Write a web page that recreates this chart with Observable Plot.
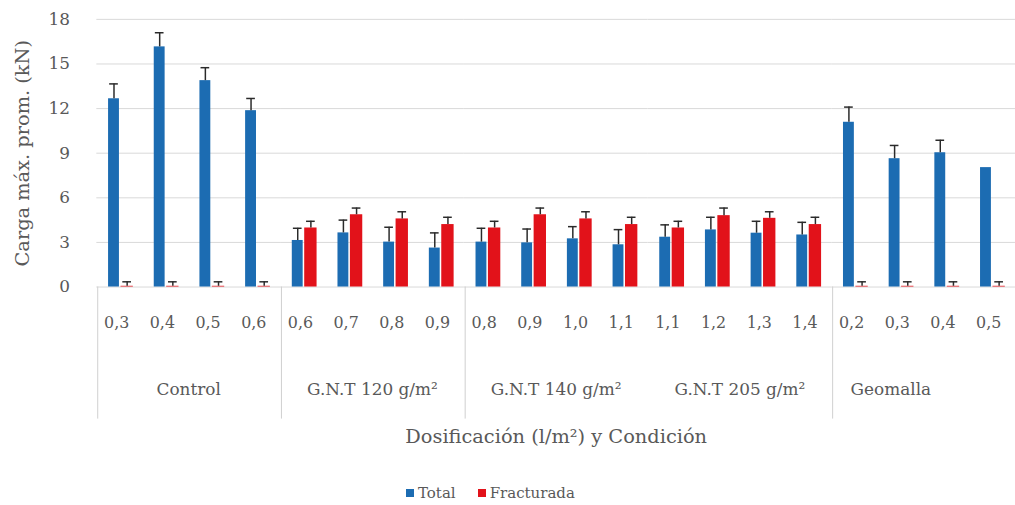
<!DOCTYPE html>
<html>
<head>
<meta charset="utf-8">
<script src="https://cdn.jsdelivr.net/npm/d3@7"></script>
<script src="https://cdn.jsdelivr.net/npm/@observablehq/plot@0.6"></script>
<style>
  html, body { margin: 0; padding: 0; background: #fff; overflow: hidden; }
  #chart { width: 1015px; height: 505px; position: relative; overflow: hidden; }
  .legend { position: absolute; left: 406px; top: 484px; display: flex; gap: 22px;
            font-family: "DejaVu Serif", "Liberation Serif", serif; font-size: 15px; color: #595959; }
  .legend span.sw { display: inline-block; width: 8px; height: 8px; margin-right: 4px; }
  .legend .item { display: flex; align-items: center; }
</style>
</head>
<body>
<div id="chart"></div>
<script>
// ---- data ----
const groups = ["Control", "G.N.T 120 g/m²", "G.N.T 140 g/m²", "G.N.T 205 g/m²", "Geomalla"];
const doses = [
  ["0,3", "0,4", "0,5", "0,6"],
  ["0,6", "0,7", "0,8", "0,9"],
  ["0,8", "0,9", "1,0", "1,1"],
  ["1,1", "1,2", "1,3", "1,4"],
  ["0,2", "0,3", "0,4", "0,5"]
];
const total    = [12.66, 16.15, 13.88, 11.86, 3.13, 3.64, 3.02, 2.62, 3.02, 2.97, 3.24, 2.84, 3.35, 3.84, 3.62, 3.50, 11.08, 8.63, 9.03, 8.03];
const totalErr = [1.00, 0.95, 0.87, 0.82, 0.82, 0.86, 1.00, 1.02, 0.93, 0.93, 0.82, 1.02, 0.83, 0.85, 0.80, 0.85, 1.02, 0.89, 0.84, 0];
const fract    = [0.05, 0.05, 0.05, 0.05, 3.97, 4.86, 4.58, 4.20, 3.97, 4.86, 4.58, 4.20, 3.97, 4.80, 4.62, 4.20, 0.05, 0.05, 0.05, 0.05];
const fractErr = [0.30, 0.30, 0.30, 0.30, 0.45, 0.45, 0.48, 0.49, 0.45, 0.45, 0.48, 0.49, 0.45, 0.51, 0.44, 0.49, 0.30, 0.30, 0.30, 0.30];
const seriesNames = ["Total", "Fracturada"];
const yTicks = [0, 3, 6, 9, 12, 15, 18];
const yLabel = "Carga máx. prom. (kN)";
const xLabel = "Dosificación (l/m²) y Condición";
const dividerGroups = ["Control", "G.N.T 120 g/m²", "G.N.T 140 g/m²", "Geomalla"];

// ---- build table ----
const rows = [];
groups.forEach((g, gi) => {
  doses[gi].forEach((d, si) => {
    const i = gi * 4 + si;
    rows.push({group: g, slot: si, dose: d, series: "Total", value: total[i], err: totalErr[i]});
    rows.push({group: g, slot: si, dose: d, series: "Fracturada", value: fract[i], err: fractErr[i]});
  });
});
const tot = rows.filter(r => r.series === "Total");
const fra = rows.filter(r => r.series === "Fracturada");

// ---- layout ----
const W = 1022, H = 462, mL = 97, mT = 19, plotBottom = 288.5;
const mB = H - plotBottom;
const band = (W - mL) / groups.length / 4;
const blue = "#1c6cb2", red = "#e2121a", ink = "#595959", errC = "#2a2a2a";
const font = "'DejaVu Serif', 'Liberation Serif', serif";
const blueL = 10.8, blueR = 22.0, redL = 23.3, redR = 36.0, cap = 9;
const bC = (blueL + blueR) / 2, rC = (redL + redR) / 2;
const lastGroup = groups[groups.length - 1];

const chart = Plot.plot({
  width: W, height: H,
  marginLeft: mL, marginRight: 0, marginTop: mT, marginBottom: mB,
  style: {fontFamily: font, color: ink, background: "transparent"},
  fx: {domain: groups, padding: 0, axis: null},
  x: {type: "band", domain: [0, 1, 2, 3], padding: 0, axis: null},
  y: {domain: [0, 18], axis: null},
  marks: [
    Plot.gridY(yTicks, {stroke: "#d9d9d9", strokeOpacity: 1, strokeWidth: 1}),
    Plot.axisY(yTicks, {anchor: "left", tickSize: 0, tickPadding: 27, fontSize: 17, fill: ink,
      label: yLabel, labelAnchor: "center", labelOffset: 82, labelArrow: "none"}),
    Plot.ruleX(dividerGroups, {fx: d => d, x: () => 0, dx: -band / 2,
      insetTop: plotBottom - mT, insetBottom: -133, stroke: "#d0d0d0", strokeWidth: 1}),
    Plot.barY(tot, {fx: "group", x: "slot", y: "value", fill: blue, insetLeft: blueL, insetRight: band - blueR}),
    Plot.barY(fra, {fx: "group", x: "slot", y: "value", fill: red, insetLeft: redL, insetRight: band - redR}),
    Plot.ruleX(tot.filter(d => d.err > 0), {fx: "group", x: "slot", y1: "value", y2: d => d.value + d.err, dx: bC - band / 2, stroke: errC, strokeWidth: 1.5}),
    Plot.tickY(tot.filter(d => d.err > 0), {fx: "group", x: "slot", y: d => d.value + d.err, insetLeft: bC - cap / 2, insetRight: band - bC - cap / 2, stroke: errC, strokeWidth: 1.5}),
    Plot.ruleX(fra, {fx: "group", x: "slot", y1: "value", y2: d => d.value + d.err, dx: rC - band / 2, stroke: errC, strokeWidth: 1.5}),
    Plot.tickY(fra, {fx: "group", x: "slot", y: d => d.value + d.err, insetLeft: rC - cap / 2, insetRight: band - rC - cap / 2, stroke: errC, strokeWidth: 1.5}),
    // dose (category) labels
    Plot.text(tot, {fx: "group", x: "slot", text: "dose", frameAnchor: "bottom", dy: 41, dx: -4, fontSize: 16, fill: ink}),
    // group labels
    Plot.text(groups.slice(0, -1), {fx: d => d, text: d => d, frameAnchor: "bottom", dy: 109, fontSize: 17, fill: ink}),
    Plot.text([lastGroup], {fx: d => d, text: d => d, frameAnchor: "bottom", dy: 109, dx: -33, fontSize: 17, fill: ink}),
    // x-axis title
    Plot.axisFx({anchor: "bottom", tickSize: 0, tickFormat: () => "", fill: ink,
      label: xLabel, labelAnchor: "center", labelOffset: 157, labelArrow: "none"})
  ]
});
document.getElementById("chart").appendChild(chart);
chart.querySelectorAll("[aria-label='fx-axis label']").forEach(n => n.setAttribute("font-size", 19.5));
chart.querySelectorAll("[aria-label='y-axis label']").forEach(n => {
  n.setAttribute("font-size", 19.5);
  n.querySelectorAll("text").forEach(t => t.setAttribute("font-size", 19.5));
});

const legend = document.createElement("div");
legend.className = "legend";
legend.innerHTML = seriesNames.map((s, i) =>
  `<div class="item"><span class="sw" style="background:${i === 0 ? blue : red}"></span>${s}</div>`).join("");
document.getElementById("chart").appendChild(legend);
</script>
</body>
</html>
